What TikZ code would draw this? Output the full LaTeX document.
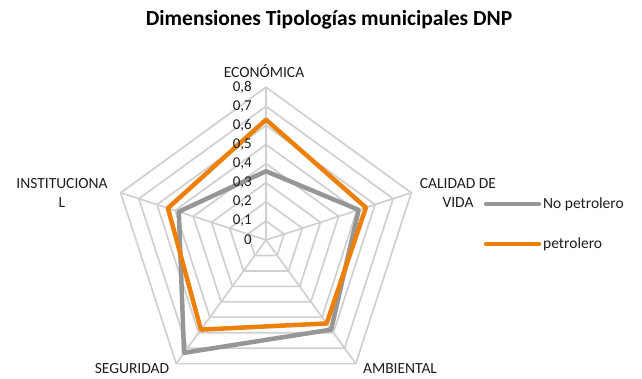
\documentclass[tikz,border=0pt]{standalone}
\usepackage{fontspec}
\setmainfont{Carlito}
\usepackage{tikz}
\usetikzlibrary{
    positioning,  % better custom positioning
}
\definecolor{gridgray}{RGB}{208,208,208}
\definecolor{nopetro}{RGB}{150,150,150}
\definecolor{petro}{RGB}{237,128,10}
\definecolor{txt}{RGB}{30,30,30}

\begin{document}
\begin{tikzpicture}[x=1pt, y=1pt,
            gridline/.style={draw=gridgray, line width=1.7pt},
            serie/.style={line width=4.5pt, line join=round},
            axlabel/.style={font=\fontsize{15.5}{19.5}\selectfont, text=txt, align=center, inner sep=0pt},
            ticklabel/.style={font=\fontsize{15}{18}\selectfont, text=txt, anchor=east, inner sep=0pt},
            legline/.style={line width=4.5pt, line cap=round},
        ]
            \useasboundingbox (0,0) rectangle (642,378);
    
            \node[font=\fontsize{21.5}{25}\selectfont\bfseries] (title) at (329,358) {Dimensiones Tipologías municipales DNP};
    
            \begin{scope}[shift={(266,138)}]
                \foreach \k in {1,...,8}
                    \draw[gridline] (90:\k*19.1) -- (18:\k*19.1) -- (-54:\k*19.1)
                    -- (-126:\k*19.1) -- (162:\k*19.1) -- cycle;
                \foreach \a in {90,18,-54,-126,162}
                    \draw[gridline] (0,0) -- (\a:152.8);
    
                \draw[serie, nopetro] (90:0.36*191) -- (18:0.51*191) -- (-54:0.58*191)
                -- (-126:0.73*191) -- (162:0.48*191) -- cycle;
                \draw[serie, petro] (90:0.63*191) -- (18:0.55*191) -- (-54:0.54*191)
                -- (-126:0.58*191) -- (162:0.54*191) -- cycle;
    
                \foreach \k/\v in {0/0,1/{0,1},2/{0,2},3/{0,3},4/{0,4},5/{0,5},6/{0,6},7/{0,7},8/{0,8}}
                    \node[ticklabel] (t\k) at (-14,\k*19.1) {\v};
            \end{scope}
    
            \node[axlabel] (eco) at (264,307) {ECONÓMICA};
            \node[axlabel] (vida) at (458,185) {CALIDAD DE\\VIDA};
            \node[axlabel] (amb) at (400,9) {AMBIENTAL};
            \node[axlabel] (seg) at (132,9) {SEGURIDAD};
            \node[axlabel] (inst) at (62,185) {INSTITUCIONA\\L};
    
            \coordinate (l1a) at (486,174);
            \coordinate (l1b) at (539,174);
            \coordinate (l2a) at (486,134);
            \coordinate (l2b) at (539,134);
            \draw[legline, nopetro] (l1a) -- (l1b);
            \draw[legline, petro] (l2a) -- (l2b);
            \node[axlabel, anchor=west, right=4pt of l1b] (leg1) {No petrolero};
            \node[axlabel, anchor=west, right=4pt of l2b] (leg2) {petrolero};
        \end{tikzpicture}
\end{document}
